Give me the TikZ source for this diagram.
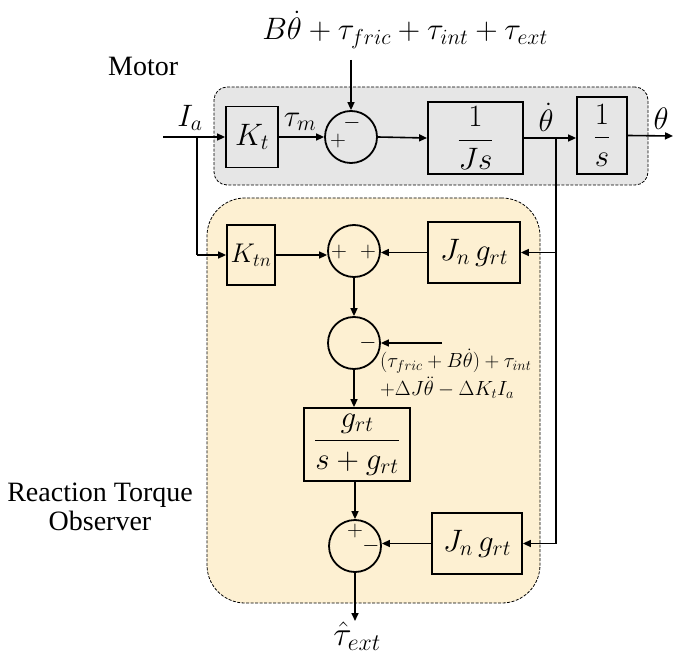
\documentclass[tikz,border=0pt]{standalone}
\usepackage{fix-cm}
\usepackage{amsmath}
\usepackage{fontspec}
\setmainfont{Liberation Serif}
\usetikzlibrary{arrows.meta}
\newcommand\fsz[1]{\fontsize{#1}{#1}\selectfont}
\definecolor{motorgray}{HTML}{E6E6E6}
\definecolor{obsyellow}{HTML}{FDF0D2}
\begin{document}
\begin{tikzpicture}[x=1pt,y=-1pt,
  blk/.style={draw,line width=1.8pt,inner sep=0pt,font=\fsz{31}},
  sumc/.style={circle,draw,line width=1.8pt,minimum size=52pt,inner sep=0pt},
  arr/.style={line width=1.6pt,-{Triangle[length=8pt,width=7pt]}},
  ln/.style={line width=1.6pt},
  sgn/.style={inner sep=0pt,font=\fsz{22}},
  lbl/.style={inner sep=0pt,font=\fsz{31}},
  dlbl/.style={inner sep=0pt,font=\fsz{20.5},anchor=west},
  region/.style={draw,line width=0.8pt,dash pattern=on 3pt off 1.5pt,inner sep=0pt}]
\useasboundingbox (0,0) rectangle (677,660);
% regions
\node[region,fill=motorgray,rounded corners=13pt,minimum width=434pt,minimum height=98pt] (motor) at (431,136) {};
\node[region,fill=obsyellow,rounded corners=38pt,minimum width=333pt,minimum height=405pt] (obs) at (373.5,400.5) {};
\node[inner sep=0pt,font=\fsz{28},anchor=west] (motorlbl) at (108,66) {Motor};
\node[inner sep=0pt,font=\fsz{28},align=center] (obslbl) at (100,507) {Reaction Torque\\[1pt]Observer};
% motor blocks
\node[blk,minimum width=52pt,minimum height=61pt] (Kt) at (252,137) {$K_t$};
\node[sumc] (s1) at (351,137) {};
\node[blk,minimum width=95pt,minimum height=72pt] (Js) at (475.5,138) {$\dfrac{1}{Js}$};
\node[blk,minimum width=50pt,minimum height=77pt] (S) at (602,135.5) {$\dfrac{1}{s}$};
% observer blocks
\node[blk,font=\fsz{27},minimum width=48pt,minimum height=60pt] (Ktn) at (251,255) {$K_{tn}$};
\node[sumc] (s2) at (354,251) {};
\node[blk,minimum width=92pt,minimum height=61pt] (Jg1) at (474,252.5) {$J_n\,g_{rt}$};
\node[sumc] (s3) at (354,343) {};
\node[blk,minimum width=106pt,minimum height=73pt] (G) at (357,444.5) {$\dfrac{g_{rt}}{s+g_{rt}}$};
\node[sumc] (s4) at (355,546) {};
\node[blk,minimum width=90pt,minimum height=61pt] (Jg2) at (477,543.5) {$J_n\,g_{rt}$};
% signs
\node[sgn] (s1m) at (352,123) {$-$};
\node[sgn] (s1p) at (338,141) {$+$};
\node[sgn] (s2pa) at (339,252) {$+$};
\node[sgn] (s2pb) at (368,252) {$+$};
\node[sgn] (s3m) at (368,343) {$-$};
\node[sgn] (s4p) at (355,531) {$+$};
\node[sgn] (s4m) at (371,546) {$-$};
% coordinates
\coordinate (in) at (163,137);
\coordinate (br1) at (197,137);
\coordinate (br1d) at (197,255);
\coordinate (top) at (351,60);
\coordinate (br2) at (556,138);
\coordinate (br2a) at (556,252.5);
\coordinate (br2b) at (556,543.5);
\coordinate (out) at (673,136);
\coordinate (dist) at (442,343);
\coordinate (est) at (355,621);
% connectors
\draw[arr] (in) -- (Kt.west);
\draw[ln] (br1) -- (br1d);
\draw[arr] (br1d) -- (Ktn.west);
\draw[arr] (Kt.east) -- (s1.west);
\draw[arr] (top) -- (s1.north);
\draw[arr] (s1.east) -- (Js.west);
\draw[arr] (Js.east) -- (S.west |- Js.east);
\draw[ln] (br2) -- (br2b);
\draw[arr] (br2a) -- (Jg1.east);
\draw[arr] (br2b) -- (Jg2.east);
\draw[arr] (S.east) -- (out);
\draw[arr] (Ktn.east) -- (s2.west |- Ktn.east);
\draw[arr] (Jg1.west) -- (s2.east |- Jg1.west);
\draw[arr] (s2.south) -- (s3.north);
\draw[arr] (dist) -- (s3.east);
\draw[arr] (s3.south) -- (G.north -| s3.south);
\draw[arr] (G.south -| s4.north) -- (s4.north);
\draw[arr] (Jg2.west) -- (s4.east |- Jg2.west);
\draw[arr] (s4.south) -- (est);
% labels
\node[lbl,anchor=south] (Ial) at (190,131) {$I_a$};
\node[lbl,anchor=south] (taum) at (300,131) {$\tau_m$};
\node[lbl,anchor=south] (thd) at (546,132) {$\dot\theta$};
\node[lbl,anchor=south] (th) at (661,130) {$\theta$};
\node[lbl] (topl) at (405,30) {$B\dot\theta+\tau_{fric}+\tau_{int}+\tau_{ext}$};
\node[lbl,font=\fsz{34},anchor=north] (estl) at (357,622) {$\hat\tau_{ext}$};
\node[dlbl] (dl1) at (380,361) {$(\tau_{fric}+B\dot\theta)+\tau_{int}$};
\node[dlbl] (dl2) at (380,388) {$+\Delta J\ddot\theta-\Delta K_t I_a$};
\end{tikzpicture}
\end{document}
